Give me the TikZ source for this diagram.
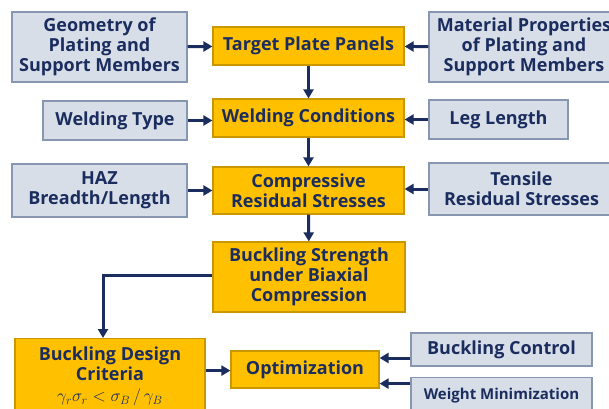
\documentclass[tikz,border=0pt]{standalone}
\usepackage{fontspec}
\setmainfont{Open Sans}
\usetikzlibrary{arrows.meta}
\definecolor{navy}{HTML}{1B2D5E}
\definecolor{grayfill}{HTML}{D8DEE8}
\definecolor{grayline}{HTML}{8797B2}
\definecolor{goldfill}{HTML}{FFC000}
\definecolor{goldline}{HTML}{C99700}
\tikzset{
  base/.style={draw, line width=1.2pt, align=center, text=navy, inner sep=0pt,
    font=\bfseries\fontsize{18}{20}\selectfont},
  graybox/.style={base, fill=grayfill, draw=grayline},
  goldbox/.style={base, fill=goldfill, draw=goldline},
  arr/.style={draw=navy, line width=3pt, -{Triangle[length=9pt,width=10pt]}},
}
\begin{document}
\begin{tikzpicture}[x=1pt, y=-1pt]
\useasboundingbox (0,0) rectangle (609,408);
\clip (0,0) rectangle (609,408);
\fill[white] (0,0) rectangle (609,408);

% row 1
\node[graybox, minimum width=175pt, minimum height=70pt] (geo) at (99.5,47)
  {Geometry of\\Plating and\\Support Members};
\node[goldbox, minimum width=191pt, minimum height=38pt] (tpp) at (308.5,46)
  {Target Plate Panels};
\node[graybox, minimum width=190pt, minimum height=70pt] (mat) at (524,47)
  {Material Properties\\of Plating and\\Support Members};

% row 2
\node[graybox, minimum width=144pt, minimum height=39pt] (wty) at (115,120.5)
  {Welding Type};
\node[goldbox, minimum width=191pt, minimum height=38pt] (wco) at (308.5,118)
  {Welding Conditions};
\node[graybox, minimum width=139pt, minimum height=39pt] (leg) at (498.5,119.5)
  {Leg Length};

% row 3
\node[graybox, minimum width=175pt, minimum height=53pt] (haz) at (99.5,190.5)
  {HAZ\\Breadth/Length};
\node[goldbox, minimum width=191pt, minimum height=47pt] (crs) at (308.5,190.5)
  {Compressive\\Residual Stresses};
\node[graybox, minimum width=185pt, minimum height=52pt] (trs) at (521.5,189)
  {Tensile\\Residual Stresses};

% row 4
\node[goldbox, minimum width=192pt, minimum height=70pt] (bsb) at (309,277)
  {Buckling Strength\\under Biaxial\\Compression};

% row 5
\node[goldbox, minimum width=190pt, minimum height=76pt, anchor=north] (bdc) at (110,338)
  {Buckling Design\\Criteria\\[1pt]{\mdseries\fontsize{17}{19}\selectfont$\gamma_r\sigma_r<\sigma_B\,/\,\gamma_B$}};
\node[goldbox, minimum width=148pt, minimum height=37pt] (opt) at (305,369.5)
  {Optimization};
\node[graybox, minimum width=181pt, minimum height=33pt] (bcn) at (501.5,349.5)
  {Buckling Control};
\node[graybox, minimum width=181pt, minimum height=35pt, anchor=north,
  font=\bfseries\fontsize{15}{17}\selectfont] (wmn) at (501.5,377)
  {\raisebox{-2pt}{Weight Minimization}};

% connectors
\draw[arr] (geo) -- (tpp);
\draw[arr] (mat) -- (tpp);
\draw[arr] (tpp) -- (wco);
\draw[arr] (wty.east) -- (wty.east -| wco.west);
\draw[arr] (leg.west) -- (leg.west -| wco.east);
\draw[arr] (wco) -- (crs);
\draw[arr] (haz) -- (crs);
\draw[arr] (trs.west) -- (trs.west -| crs.east);
\draw[arr] (crs) -- (bsb);
\draw[arr] ([yshift=2pt]bsb.west) -| ([xshift=-7pt]bdc.north);
\coordinate (bdo) at ([yshift=6pt]bdc.east);
\draw[arr] (bdo) -- (bdo -| opt.west);
\coordinate (bco) at ([yshift=-8.5pt]bcn.west);
\draw[arr] (bco) -- (bco -| opt.east);
\coordinate (wmo) at ([yshift=11.5pt]wmn.west);
\draw[arr] (wmo) -- (wmo -| opt.east);
\end{tikzpicture}
\end{document}
